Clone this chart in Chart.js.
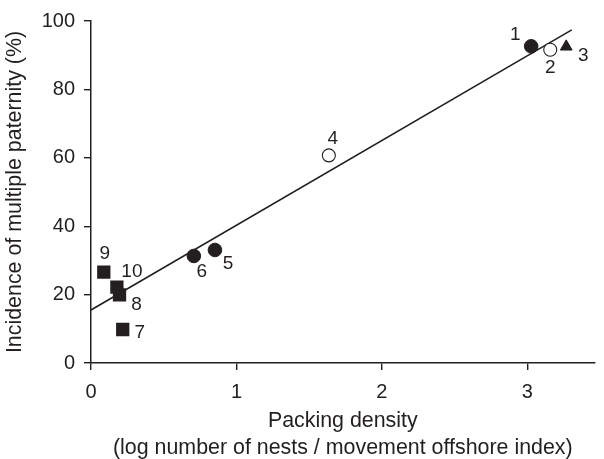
<!DOCTYPE html>
<html>
<head>
<meta charset="utf-8">
<script src="https://cdn.jsdelivr.net/npm/chart.js@4/dist/chart.umd.min.js"></script>
<style>
  html, body { margin: 0; padding: 0; background: #ffffff; }
  #wrap { width: 604px; height: 459px; }
</style>
</head>
<body>
<div id="wrap"><canvas id="c" width="604" height="459"></canvas></div>
<script>
// ---- data ----
const pointIds           = ['1', '2', '3', '4', '5', '6', '7', '8', '9', '10'];
const packingDensity     = [3.026, 3.157, 3.267, 1.635, 0.852, 0.707, 0.218, 0.196, 0.088, 0.178];
const multiplePaternity  = [92.6, 91.6, 92.5, 60.7, 33.05, 31.3, 9.8, 19.9, 26.6, 22.2];
const symbolGroup        = ['filledCircle', 'openCircle', 'triangle', 'openCircle', 'filledCircle',
                            'filledCircle', 'square', 'square', 'square', 'square'];
const fitLineX           = [0, 3.305];
const fitLineY           = [15.5, 97.4];
const xTicks             = [0, 1, 2, 3];
const yTicks             = [0, 20, 40, 60, 80, 100];
const xTitle             = ['Packing density', '(log number of nests / movement offshore index)'];
const yTitle             = 'Incidence of multiple paternity (%)';

// ---- styling ----
const INK = '#231f20';
const FONT = "'Liberation Sans', Arial, Helvetica, sans-serif";
const groupStyles = {
  filledCircle: { pointStyle: 'circle',   radius: 6.8, bg: INK,       border: INK, bw: 1 },
  openCircle:   { pointStyle: 'circle',   radius: 6.5, bg: '#ffffff', border: INK, bw: 1.1 },
  triangle:     { pointStyle: 'triangle', radius: 6.8, bg: INK,       border: INK, bw: 1 },
  square:       { pointStyle: 'rect',     radius: 9.4, bg: INK,       border: INK, bw: 0 }
};
const labelOffsets = {
  '1': [-16, -12], '2': [0, 18], '3': [17, 9], '4': [4, -17], '5': [13, 14],
  '6': [8, 16], '7': [17, 3], '8': [17, 10], '9': [1, -18], '10': [15, -15]
};

// build one dataset per symbol group
const groupOrder = ['filledCircle', 'openCircle', 'triangle', 'square'];
const pointDatasets = groupOrder.map(g => {
  const pts = [];
  symbolGroup.forEach((s, i) => {
    if (s === g) pts.push({ x: packingDensity[i], y: multiplePaternity[i], id: pointIds[i] });
  });
  const st = groupStyles[g];
  return {
    label: g,
    data: pts,
    pointStyle: st.pointStyle,
    pointRadius: st.radius,
    pointHoverRadius: st.radius,
    pointBackgroundColor: st.bg,
    pointBorderColor: st.border,
    pointBorderWidth: st.bw,
    showLine: false,
    order: 1
  };
});

const lineDataset = {
  label: 'fit',
  data: fitLineX.map((x, i) => ({ x: x, y: fitLineY[i] })),
  showLine: true,
  borderColor: INK,
  borderWidth: 1.6,
  pointRadius: 0,
  fill: false,
  order: 2
};

const pointLabelPlugin = {
  id: 'pointLabels',
  afterDatasetsDraw(chart) {
    const ctx = chart.ctx;
    ctx.save();
    ctx.font = '19px ' + FONT;
    ctx.fillStyle = INK;
    ctx.textAlign = 'center';
    ctx.textBaseline = 'middle';
    chart.data.datasets.forEach((ds, di) => {
      if (ds.label === 'fit') return;
      const meta = chart.getDatasetMeta(di);
      meta.data.forEach((el, j) => {
        const id = ds.data[j].id;
        const off = labelOffsets[id] || [0, 0];
        ctx.fillText(id, el.x + off[0], el.y + off[1]);
      });
    });
    ctx.restore();
  }
};

new Chart(document.getElementById('c'), {
  type: 'scatter',
  data: { datasets: [...pointDatasets, lineDataset] },
  options: {
    responsive: false,
    animation: false,
    events: [],
    layout: { padding: { top: 16, right: 0, bottom: 0, left: 0 } },
    plugins: { legend: { display: false }, tooltip: { enabled: false } },
    scales: {
      x: {
        type: 'linear',
        min: 0,
        max: 3.462,
        afterBuildTicks: s => { s.ticks = xTicks.map(v => ({ value: v })); },
        afterFit: s => { s.height = 96; },
        ticks: { color: INK, font: { family: FONT, size: 20 }, padding: 10, includeBounds: false },
        grid: { drawOnChartArea: false, drawTicks: true, tickLength: 7, color: INK, lineWidth: 1.4 },
        border: { display: true, color: INK, width: 1.5 },
        title: {
          display: true, text: xTitle, color: INK,
          font: { family: FONT, size: 21.4, lineHeight: 1.28 },
          padding: { top: 0, bottom: -3 }
        }
      },
      y: {
        type: 'linear',
        min: 0,
        max: 100,
        afterBuildTicks: s => { s.ticks = yTicks.map(v => ({ value: v })); },
        afterFit: s => { s.width = 91; },
        ticks: { color: INK, font: { family: FONT, size: 20 }, padding: 9, includeBounds: false },
        grid: { drawOnChartArea: false, drawTicks: true, tickLength: 7, color: INK, lineWidth: 1.4 },
        border: { display: true, color: INK, width: 1.5 },
        title: {
          display: true, text: yTitle, color: INK,
          font: { family: FONT, size: 21.4, lineHeight: 1.3 },
          padding: { top: 1.5, bottom: 0 }
        }
      }
    }
  },
  plugins: [pointLabelPlugin]
});
</script>
</body>
</html>
